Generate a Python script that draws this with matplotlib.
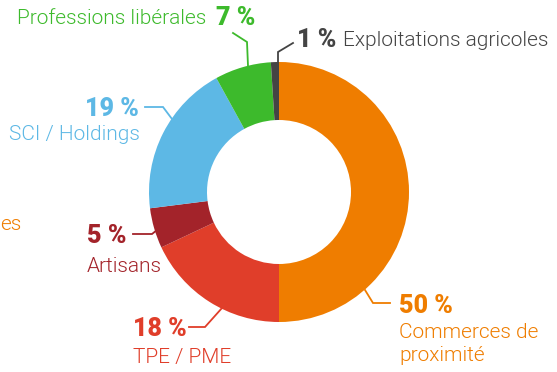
import matplotlib.pyplot as plt

# Share of clients by sector, clockwise from the top
categories = ["Commerces de\nproximité", "TPE / PME", "Artisans",
              "SCI / Holdings", "Professions libérales", "Exploitations agricoles"]
values = [50, 18, 5, 19, 7, 1]
colors = ["#EF7D00", "#E03E2A", "#A3232A", "#5DB8E5", "#3DBA2C", "#444444"]

W, H = 557, 372
fig = plt.figure(figsize=(W / 100, H / 100), dpi=100)
ax = fig.add_axes([0, 0, 1, 1])

plt.rcParams["font.family"] = ["Roboto", "DejaVu Sans"]


def Y(y):
    # pixel rows counted from the top
    return H - y


ax.pie(values, colors=colors, startangle=90, counterclock=False,
       center=(279, Y(192)), radius=130, frame=True,
       wedgeprops=dict(width=58, linewidth=0))
ax.set_xlim(0, W)
ax.set_ylim(0, H)
ax.set_aspect("equal")
ax.axis("off")

pct = {c: f"{v} %" for c, v in zip(categories, values)}
col = dict(zip(categories, colors))

fs_lab = 15
fs_pct = 18
w_lab = 300
w_pct = 900


def leader(pts, c):
    ax.plot([p[0] for p in pts], [Y(p[1]) for p in pts], color=c, lw=1.3,
            solid_joinstyle="miter")


def label(x, y, s, c, ha, bold=False, **kw):
    ax.text(x, Y(y), s, color=c, fontsize=fs_pct if bold else fs_lab,
            fontweight=w_pct if bold else w_lab, ha=ha, va="center", **kw)


# Professions libérales
c = categories[4]
label(206, 18, c, col[c], "right")
label(216, 18, pct[c], col[c], "left", bold=True)
leader([(233, 33), (247, 42), (248, 66)], col[c])

# Exploitations agricoles
c = categories[5]
label(297, 40, pct[c], col[c], "left", bold=True)
label(343, 40, c, col[c], "left")
leader([(293, 43), (278, 52), (278, 62)], col[c])

# SCI / Holdings
c = categories[3]
label(139, 109, pct[c], col[c], "right", bold=True)
label(140, 135, c, col[c], "right")
leader([(145, 107), (163, 107), (172, 119)], col[c])

# Artisans
c = categories[2]
label(87, 236, pct[c], col[c], "left", bold=True)
label(87, 266, c, col[c], "left")
leader([(133, 234), (152, 234), (157, 230)], col[c])

# TPE / PME
c = categories[1]
label(133, 329, pct[c], col[c], "left", bold=True)
label(133, 358, c, col[c], "left")
leader([(189, 327), (205, 327), (222, 308)], col[c])

# Commerces de proximité
c = categories[0]
label(399, 306, pct[c], col[c], "left", bold=True)
label(399, 344, c, col[c], "left", linespacing=1.3)
leader([(365, 290), (373, 303), (390, 303)], col[c])

# clipped label at the left edge
label(21, 224, "Commerces de proximité".split()[0][-2:], colors[0], "right")

fig.savefig("out.png", dpi=100)
